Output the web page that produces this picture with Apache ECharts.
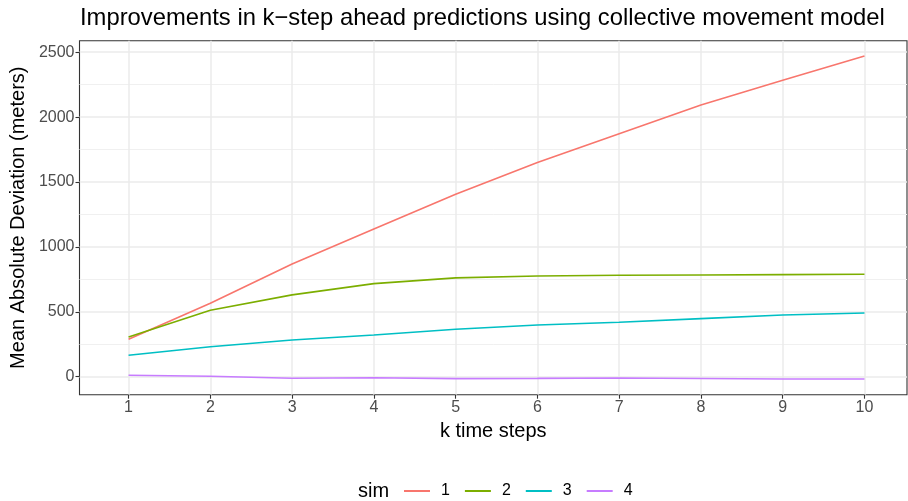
<!DOCTYPE html>
<html>
<head>
<meta charset="utf-8">
<script src="https://cdn.jsdelivr.net/npm/echarts@6/dist/echarts.min.js"></script>
<style>html,body{margin:0;padding:0;background:#fff}#c{width:908px;height:501px}</style>
</head>
<body>
<div id="c"></div>
<script>
const kSteps = [1, 2, 3, 4, 5, 6, 7, 8, 9, 10];
const sim1 = [288, 566, 868, 1138, 1405, 1650, 1872, 2094, 2284, 2471];
const sim2 = [306, 512, 630, 717, 761, 776, 781, 784, 786, 789];
const sim3 = [165, 231, 283, 321, 365, 398, 419, 447, 475, 491];
const sim4 = [11, 3, -12, -8, -15, -13, -10, -14, -18, -18];
const simNames = ['1', '2', '3', '4'];
const simColors = ['#F8766D', '#7CAE00', '#00BFC4', '#C77CFF'];
const yTicks = [0, 500, 1000, 1500, 2000, 2500];

const allSeries = [sim1, sim2, sim3, sim4];
const FONT = 'Liberation Sans, Arial, sans-serif';

const chart = echarts.init(document.getElementById('c'), null, {renderer: 'canvas'});
chart.setOption({
  animation: false,
  backgroundColor: '#ffffff',
  title: {
    text: 'Improvements in k\u2212step ahead predictions using collective movement model',
    left: 80, top: 6, padding: 0,
    textStyle: {fontFamily: FONT, fontSize: 23.8, fontWeight: 'normal', color: '#000'}
  },
  grid: {left: 79.5, top: 40.7, right: 1, bottom: 106.3, containLabel: false, outerBoundsMode: 'none',
    show: true, borderColor: '#333333', borderWidth: 1.1, backgroundColor: 'transparent'},
  legend: {
    left: 404, top: 483, padding: 0,
    icon: 'rect',
    itemWidth: 26, itemHeight: 2, itemGap: 15,
    data: simNames,
    textStyle: {fontFamily: FONT, fontSize: 16, color: '#000', padding: [0, 0, 0, 6]}
  },
  graphic: [{
    type: 'text', left: 358, top: 481.5,
    style: {text: 'sim', font: '20px ' + FONT, fill: '#000'}
  }],
  xAxis: {
    type: 'value', min: 0.4, max: 10.52,
    name: 'k time steps', nameLocation: 'middle', nameGap: 27,
    nameTextStyle: {fontFamily: FONT, fontSize: 20, color: '#000'},
    axisLine: {show: false, onZero: false},
    axisTick: {show: true, length: 4, customValues: kSteps, lineStyle: {color: '#333333', width: 1.1}},
    axisLabel: {customValues: kSteps, margin: 5, fontFamily: FONT, fontSize: 16, color: '#4d4d4d',
      formatter: v => String(v)},
    splitLine: {show: true, lineStyle: {color: '#ebebeb', width: 1.5}},
    minorSplitLine: {show: false}
  },
  yAxis: {
    type: 'value', min: -139, max: 2589,
    name: 'Mean Absolute Deviation (meters)', nameLocation: 'middle', nameGap: 50,
    nameTextStyle: {fontFamily: FONT, fontSize: 20, color: '#000'},
    axisLine: {show: false, onZero: false},
    axisTick: {show: true, length: 4, customValues: yTicks, lineStyle: {color: '#333333', width: 1.1}},
    axisLabel: {customValues: yTicks, margin: 5, fontFamily: FONT, fontSize: 16, color: '#4d4d4d',
      formatter: v => String(v)},
    splitLine: {show: true, lineStyle: {color: '#ebebeb', width: 1.5}},
    minorTick: {show: false, splitNumber: 2},
    minorSplitLine: {show: true, lineStyle: {color: '#f0f0f0', width: 1}}
  },
  series: allSeries.map((vals, i) => ({
    name: simNames[i],
    type: 'line',
    symbol: 'none',
    color: simColors[i],
    lineStyle: {width: 1.6, color: simColors[i]},
    data: kSteps.map((k, j) => [k, vals[j]])
  }))
});
</script>
</body>
</html>
